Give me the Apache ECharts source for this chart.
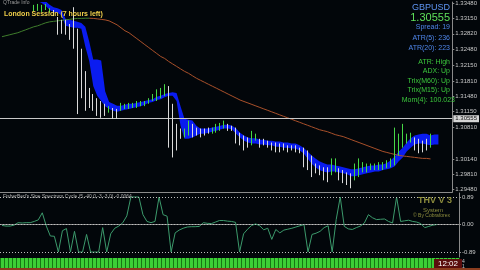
<!DOCTYPE html>
<html><head><meta charset="utf-8">
<script src="https://cdn.jsdelivr.net/npm/echarts@6/dist/echarts.min.js"></script>
<style>html,body{margin:0;padding:0;background:#02060a;}#c{width:480px;height:270px;}</style>
</head><body><div id="c"></div>
<script>
// ---- data ----
const barCount = 114;
const categories = Array.from({length: barCount}, (_, i) => String(i + 1));
const openValues = [1.3378,1.3370,1.3365,1.3361,1.3358,1.3362,1.3366,1.3356,1.3331,1.3333,
 1.3333,1.3336,1.3329,1.3331,1.3315,1.3306,1.3302,1.3295,1.3290,1.3268,
 1.3232,1.3170,1.3155,1.3140,1.3135,1.3128,1.3125,1.3115,1.3120,1.3116,
 1.3119,1.3123,1.3124,1.3125,1.3126,1.3129,1.3130,1.3134,1.3140,1.3142,
 1.3148,1.3153,1.3166,1.3105,1.3070,1.3075,1.3063,1.3070,1.3088,1.3076,
 1.3074,1.3073,1.3077,1.3070,1.3074,1.3078,1.3082,1.3088,1.3082,1.3077,
 1.3062,1.3056,1.3052,1.3046,1.3056,1.3055,1.3054,1.3050,1.3046,1.3044,
 1.3042,1.3043,1.3040,1.3040,1.3039,1.3035,1.3032,1.3024,1.3012,1.3000,
 1.2996,1.2990,1.2988,1.2983,1.2990,1.2990,1.2985,1.2980,1.2978,1.2972,
 1.2980,1.2990,1.2989,1.2992,1.2993,1.2993,1.2994,1.2998,1.3000,1.3008,
 1.3030,1.3045,1.3052,1.3054,1.3056,1.3052,1.3048,1.3050,1.3042];
const closeValues = [1.3370,1.3365,1.3361,1.3358,1.3363,1.3366,1.3356,1.3353,1.3342,1.3344,
 1.3341,1.3344,1.3335,1.3322,1.3286,1.3287,1.3289,1.3275,1.3262,1.3130,
 1.3160,1.3130,1.3130,1.3122,1.3112,1.3108,1.3110,1.3124,1.3104,1.3103,
 1.3130,1.3129,1.3131,1.3132,1.3135,1.3136,1.3137,1.3142,1.3150,1.3159,
 1.3162,1.3170,1.3062,1.3045,1.3050,1.3063,1.3075,1.3090,1.3068,1.3068,
 1.3066,1.3068,1.3071,1.3078,1.3086,1.3088,1.3093,1.3077,1.3076,1.3054,
 1.3048,1.3038,1.3042,1.3068,1.3065,1.3042,1.3046,1.3041,1.3036,1.3032,
 1.3031,1.3035,1.3031,1.3034,1.3030,1.3028,1.3001,1.2995,1.2980,1.2987,
 1.2983,1.2972,1.2969,1.3010,1.3010,1.2972,1.2966,1.2962,1.2956,1.2999,
 1.3010,1.3003,1.3000,1.3001,1.3002,1.3004,1.3004,1.3008,1.3012,1.3070,
 1.3060,1.3078,1.3064,1.3066,1.3038,1.3032,1.3033,1.3040,1.30555];
const lowValues = [1.3366,1.3362,1.3358,1.3355,1.3354,1.3356,1.3353,1.3351,1.3329,1.3331,
 1.3329,1.3333,1.3327,1.3320,1.3280,1.3282,1.3280,1.3269,1.3250,1.3110,
 1.3144,1.3117,1.3123,1.3117,1.3106,1.3102,1.3106,1.3113,1.3100,1.3100,
 1.3117,1.3121,1.3121,1.3123,1.3123,1.3127,1.3127,1.3132,1.3138,1.3138,
 1.3144,1.3149,1.3038,1.3017,1.3032,1.3057,1.3060,1.3064,1.3060,1.3064,
 1.3060,1.3064,1.3068,1.3068,1.3070,1.3074,1.3079,1.3074,1.3074,1.3047,
 1.3043,1.3032,1.3038,1.3043,1.3053,1.3038,1.3043,1.3038,1.3032,1.3028,
 1.3028,1.3032,1.3028,1.3032,1.3028,1.3026,1.2996,1.2990,1.2975,1.2983,
 1.2979,1.2968,1.2964,1.2979,1.2985,1.2968,1.2962,1.2958,1.2951,1.2968,
 1.2975,1.2985,1.2985,1.2990,1.2990,1.2990,1.2990,1.2994,1.2996,1.3000,
 1.3021,1.3038,1.3047,1.3049,1.3032,1.3026,1.3028,1.3032,1.3038];
const highValues = [1.3382,1.3376,1.3372,1.3368,1.3366,1.3370,1.3368,1.3362,1.3344,1.3346,
 1.3344,1.3346,1.3337,1.3333,1.3318,1.3312,1.3312,1.3303,1.3339,1.3293,
 1.3250,1.3202,1.3166,1.3153,1.3144,1.3138,1.3132,1.3127,1.3123,1.3121,
 1.3134,1.3132,1.3134,1.3134,1.3138,1.3138,1.3138,1.3144,1.3153,1.3163,
 1.3166,1.3174,1.3170,1.3132,1.3089,1.3079,1.3079,1.3096,1.3089,1.3081,
 1.3079,1.3079,1.3081,1.3081,1.3089,1.3091,1.3096,1.3089,1.3085,1.3081,
 1.3070,1.3064,1.3060,1.3074,1.3068,1.3057,1.3057,1.3053,1.3049,1.3049,
 1.3047,1.3047,1.3043,1.3043,1.3043,1.3038,1.3038,1.3032,1.3021,1.3004,
 1.3000,1.2996,1.2996,1.3015,1.3015,1.2994,1.2990,1.2985,1.2983,1.3004,
 1.3015,1.3007,1.3004,1.3004,1.3004,1.3007,1.3007,1.3011,1.3015,1.3081,
 1.3068,1.3089,1.3068,1.3070,1.3060,1.3057,1.3053,1.3057,1.3068];
const ribbonUpper = [1.3392,1.3388,1.3385,1.3381,1.3378,1.3375,1.3372,1.3370,1.3367,1.3363,
 1.3356,1.3352,1.3344,1.3339,1.3337,1.3333,1.3314,1.3312,1.3310,1.3308,
 1.3305,1.3297,1.3265,1.3227,1.3227,1.3225,1.3159,1.3136,1.3132,1.3128,
 1.3128,1.3130,1.3132,1.3132,1.3134,1.3136,1.3138,1.3140,1.3142,1.3147,
 1.3149,1.3153,1.3155,1.3157,1.3155,1.3127,1.3100,1.3098,1.3096,1.3085,
 1.3079,1.3079,1.3079,1.3081,1.3083,1.3085,1.3087,1.3087,1.3085,1.3079,
 1.3070,1.3064,1.3060,1.3058,1.3058,1.3055,1.3055,1.3053,1.3053,1.3051,
 1.3051,1.3049,1.3049,1.3047,1.3047,1.3043,1.3038,1.3030,1.3022,1.3015,
 1.3009,1.3005,1.3002,1.3002,1.3000,1.2998,1.2996,1.2994,1.2992,1.2992,
 1.2994,1.2996,1.2998,1.3000,1.3000,1.3002,1.3002,1.3005,1.3011,1.3019,
 1.3030,1.3038,1.3049,1.3058,1.3064,1.3066,1.3068,1.3068,1.3064,1.3066,
 1.3066];
const ribbonLower = [1.3381,1.3378,1.3374,1.3371,1.3367,1.3364,1.3361,1.3358,1.3356,1.3352,
 1.3348,1.3342,1.3333,1.3329,1.3327,1.3322,1.3299,1.3297,1.3295,1.3295,
 1.3293,1.3255,1.3223,1.3170,1.3149,1.3138,1.3127,1.3121,1.3117,1.3115,
 1.3117,1.3119,1.3121,1.3123,1.3125,1.3127,1.3130,1.3134,1.3136,1.3140,
 1.3142,1.3146,1.3149,1.3149,1.3138,1.3085,1.3057,1.3057,1.3060,1.3064,
 1.3068,1.3068,1.3070,1.3072,1.3074,1.3077,1.3079,1.3079,1.3077,1.3068,
 1.3060,1.3053,1.3049,1.3047,1.3047,1.3045,1.3045,1.3043,1.3043,1.3040,
 1.3040,1.3038,1.3038,1.3036,1.3036,1.3032,1.3026,1.3015,1.3004,1.2996,
 1.2990,1.2987,1.2985,1.2987,1.2987,1.2985,1.2983,1.2981,1.2977,1.2977,
 1.2979,1.2981,1.2983,1.2985,1.2987,1.2987,1.2990,1.2992,1.2994,1.2998,
 1.3009,1.3017,1.3030,1.3038,1.3045,1.3047,1.3047,1.3045,1.3043,1.3045,
 1.3045];
// moving average: green part (bars 1-23), orange part (bars 23-109)
const maGreen = [1.32758,1.32779,1.32800,1.32822,1.32843,1.32875,1.32906,1.32938,1.32970,1.32991,
 1.33023,1.33055,1.33076,1.33087,1.33097,1.33108,1.33118,1.33129,1.33140,1.33150,1.33150,1.33154,1.33154];
const maOrangeStart = 22;
const maOrange = [1.33154,1.33150,1.33140,1.33129,1.33118,1.33097,1.33055,1.33012,1.32949,1.32885,
 1.32843,1.32779,1.32716,1.32652,1.32588,1.32525,1.32461,1.32398,1.32334,1.32292,
 1.32228,1.32175,1.32122,1.32069,1.32016,1.31974,1.31921,1.31868,1.31825,1.31783,
 1.31740,1.31698,1.31656,1.31613,1.31571,1.31528,1.31486,1.31444,1.31401,1.31369,
 1.31338,1.31306,1.31274,1.31242,1.31210,1.31179,1.31147,1.31115,1.31083,1.31051,
 1.31020,1.30988,1.30956,1.30924,1.30892,1.30861,1.30829,1.30797,1.30765,1.30744,
 1.30723,1.30691,1.30659,1.30638,1.30617,1.30585,1.30553,1.30521,1.30490,1.30458,
 1.30426,1.30394,1.30362,1.30331,1.30299,1.30278,1.30256,1.30235,1.30214,1.30203,
 1.30193,1.30182,1.30172,1.30161,1.30150,1.30150,1.30139];
const cycleValues = [-0.03,-0.05,-0.05,-0.02,0.06,0.05,0.06,0.06,0.10,0.15,
 0.38,-0.05,-0.37,-0.38,-0.89,-0.20,-0.13,-0.89,-0.22,-0.89,
 -0.89,-0.32,-0.89,-0.89,-0.89,-0.10,-0.89,-0.30,-0.12,-0.05,
 0.06,0.28,0.89,0.89,0.89,0.32,0.10,0.06,0.10,0.89,
 0.32,0.27,-0.89,-0.27,-0.18,-0.12,-0.08,-0.07,-0.07,-0.06,
 0.06,0.04,0.03,0.08,0.13,0.13,0.11,0.10,0.07,-0.89,
 -0.30,-0.15,-0.03,0.02,-0.04,-0.17,-0.12,-0.48,-0.16,-0.27,
 -0.18,-0.15,-0.12,-0.08,-0.04,0.00,-0.89,-0.32,-0.28,-0.22,
 -0.10,-0.04,-0.89,0.16,0.89,-0.06,-0.14,-0.16,-0.10,-0.05,
 0.05,0.32,0.22,0.16,0.17,0.18,0.10,0.05,0.89,0.10,
 0.12,0.14,0.10,0.08,0.03,-0.10,-0.06,-0.02,0.00];
const cycleLevels = [0.89, 0.00, -0.89];
const priceTicks = [1.29480,1.29810,1.30140,1.30810,1.31150,1.31480,1.31810,1.32150,1.32480,1.32820,1.33150,1.33480];
const lastPrice = 1.30555;
const infoBlue = ['GBPUSD', 'Spread: 19', 'ATR(5): 236', 'ATR(20): 223'];
const infoGreen = ['ATR: High', 'ADX: Up', 'Trix(M60): Up', 'Trix(M15): Up', 'Mom(4): 100.023'];

// ---- build ----
const pad = (arr, start) => categories.map((_, i) => (i - start >= 0 && i - start < arr.length) ? arr[i - start] : '-');
const candleData = openValues.map((o, i) => [o, closeValues[i], lowValues[i], highValues[i]]);
const bandDiff = ribbonUpper.map((u, i) => +(u - ribbonLower[i]).toFixed(5));
const blue = '#0a1cf0';
const font = 'Liberation Sans, Arial, sans-serif';

const chart = echarts.init(document.getElementById('c'), null, {renderer: 'canvas'});
const txt = (text, x, y, size, color, extra) => ({type: 'text', x, y, z: 100, style: Object.assign({text, fill: color, font: size + 'px ' + font}, extra || {})});
const right = {align: 'right'};
chart.setOption({
  animation: false,
  backgroundColor: '#02060a',
  grid: [
    {left: 0, right: 21, top: 0, height: 192},
    {left: 0, right: 21, top: 193, height: 64},
    {left: 0, right: 21, top: 258, height: 10, show: true, backgroundColor: '#3ccf36', borderWidth: 0}
  ],
  xAxis: [
    {gridIndex: 0, type: 'category', data: categories, boundaryGap: true,
     axisLine: {show: true, lineStyle: {color: '#8a8a8a'}}, axisTick: {show: false}, axisLabel: {show: false}},
    {gridIndex: 1, type: 'category', data: categories, boundaryGap: true,
     axisLine: {show: true, lineStyle: {color: '#8a8a8a'}}, axisTick: {show: false}, axisLabel: {show: false}},
    {gridIndex: 2, type: 'category', data: categories, boundaryGap: true,
     axisLine: {show: false}, axisTick: {show: false}, axisLabel: {show: false},
     splitLine: {show: true, interval: 0, lineStyle: {color: 'rgba(10,90,10,0.75)', width: 1}}}
  ],
  yAxis: [
    {gridIndex: 0, type: 'value', position: 'right', min: 1.2943, max: 1.3350,
     axisLine: {show: true, lineStyle: {color: '#8a8a8a'}},
     axisTick: {show: true, length: 2, customValues: priceTicks, lineStyle: {color: '#8a8a8a'}},
     axisLabel: {customValues: priceTicks, formatter: v => v.toFixed(5), color: '#c8c8c8', fontSize: 6, margin: 3, fontFamily: font},
     splitLine: {show: false}},
    {gridIndex: 1, type: 'value', position: 'right', min: -1.05, max: 1.02,
     axisLine: {show: true, lineStyle: {color: '#8a8a8a'}},
     axisTick: {show: true, length: 2, customValues: cycleLevels, lineStyle: {color: '#8a8a8a'}},
     axisLabel: {customValues: cycleLevels, formatter: v => v.toFixed(2), color: '#c8c8c8', fontSize: 6, margin: 3, fontFamily: font},
     splitLine: {show: false}},
    {gridIndex: 2, type: 'value', min: 0, max: 1, show: false}
  ],
  series: [
    {name: 'ribbonBase', type: 'line', xAxisIndex: 0, yAxisIndex: 0, stack: 'rib', data: pad(ribbonLower, 0),
     symbol: 'none', lineStyle: {opacity: 0}, clip: true, silent: true, z: 1},
    {name: 'ribbon', type: 'line', xAxisIndex: 0, yAxisIndex: 0, stack: 'rib', data: pad(bandDiff, 0),
     symbol: 'none', lineStyle: {width: 0, opacity: 0}, areaStyle: {color: blue, opacity: 1}, clip: true, silent: true, z: 1},
    {name: 'maGreen', type: 'line', data: pad(maGreen, 0), symbol: 'none', lineStyle: {color: '#3f7d2c', width: 1}, clip: true, z: 2},
    {name: 'maOrange', type: 'line', data: pad(maOrange, maOrangeStart), symbol: 'none', lineStyle: {color: '#a9502a', width: 1}, clip: true, z: 2},
    {name: 'GBPUSD', type: 'candlestick', xAxisIndex: 0, yAxisIndex: 0, data: candleData, barWidth: 1, clip: true, z: 5,
     itemStyle: {color: '#46d846', color0: '#dadada', borderColor: '#46d846', borderColor0: '#dadada', borderWidth: 1},
     markLine: {symbol: 'none', silent: true, data: [{yAxis: lastPrice}],
       lineStyle: {color: '#c8c8c8', width: 1, type: 'solid'},
       label: {position: 'end', formatter: lastPrice.toFixed(5), backgroundColor: '#d6d6d6', color: '#111', fontSize: 6, padding: [1, 2, 0, 2], distance: 1, fontFamily: font}}},
    {name: 'cycle', type: 'line', xAxisIndex: 1, yAxisIndex: 1, data: pad(cycleValues, 0), symbol: 'none',
     lineStyle: {color: '#3c9a6c', width: 1}, clip: true,
     markLine: {symbol: 'none', silent: true, data: cycleLevels.map(v => ({yAxis: v})),
       lineStyle: {color: '#bdbdbd', width: 1, type: [1, 2]}, label: {show: false}}}
  ],
  graphic: [
    {type: 'rect', shape: {x: 0, y: 268, width: 480, height: 2}, style: {fill: '#8a3c1e'}, z: 100},
    txt('QTrade Info', 3, 0, 5, '#9a9a9a'),
    txt('London Session (7 hours left)', 4, 11, 7, '#f0cf4a', {font: 'bold 7px ' + font}),
    txt(infoBlue[0], 450, 3, 9, '#5f95f2', right),
    txt(lastPrice.toFixed(5), 450, 12, 11, '#5fe05a', right),
    txt(infoBlue[1], 450, 24, 7, '#4f86ea', right),
    txt(infoBlue[2], 450, 35, 7, '#4f86ea', right),
    txt(infoBlue[3], 450, 45, 7, '#4f86ea', right),
    txt(infoGreen[0], 450, 59, 7, '#3cc83c', right),
    txt(infoGreen[1], 450, 68, 7, '#3cc83c', right),
    txt(infoGreen[2], 450, 78, 7, '#3cc83c', right),
    txt(infoGreen[3], 450, 87, 7, '#3cc83c', right),
    txt(infoGreen[4], 455, 97, 7, '#3cc83c', right),
    txt("FisherBerl's Sine Spectrum Cycle (5,-40,0,-3,-3,0) -0.0064", 3, 194, 5, '#b0b0b0'),
    txt('THV V 3', 452, 196, 9, '#8e8e3e', {align: 'right', font: 'bold 9px ' + font}),
    txt('System', 443, 207, 6, '#8e8e3e', right),
    txt('\u00a9 By Cobraforex', 450, 213, 5, '#8e8e3e', right),
    txt('12:02', 434, 259, 8, '#ffffff', {backgroundColor: '#5a0d0d', padding: [1, 4, 0, 4]}),
    txt('4', 462, 259, 5, '#c8c8c8'),
    txt('1', 462, 264, 5, '#c8c8c8')
  ]
});
</script></body></html>
